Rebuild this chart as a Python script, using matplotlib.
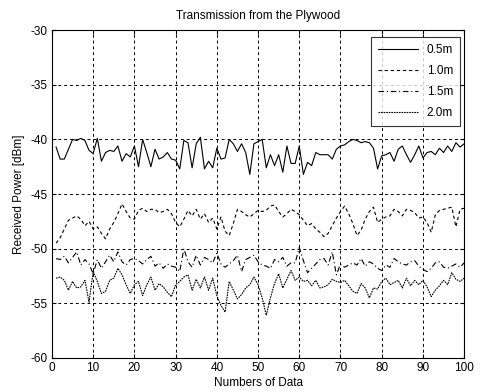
import numpy as np
import matplotlib
matplotlib.use("Agg")
import matplotlib.pyplot as plt

plt.rcParams['font.family'] = ['Liberation Sans', 'DejaVu Sans']
plt.rcParams['axes.unicode_minus'] = False

x = np.arange(1, 101)

s05 = [-40.7, -41.8, -41.8, -40.9, -40.0, -40.1, -39.9, -40.1, -41.0, -41.3,
       -39.9, -42.0, -41.2, -41.0, -41.1, -40.6, -42.0, -41.3, -41.6, -40.6,
       -42.5, -40.0, -41.2, -42.5, -40.9, -41.8, -41.6, -41.2, -41.8, -41.9,
       -42.7, -40.1, -40.3, -42.6, -40.4, -39.8, -42.7, -42.0, -42.6, -40.8,
       -41.8, -41.7, -40.0, -40.4, -41.1, -40.4, -41.2, -43.2, -40.4, -40.2,
       -40.0, -42.6, -41.4, -42.4, -41.4, -43.0, -40.6, -42.2, -42.2, -40.6,
       -43.2, -42.1, -42.4, -41.2, -41.4, -41.4, -41.4, -41.8, -40.9, -40.6,
       -40.5, -40.2, -40.0, -40.1, -40.3, -40.2, -40.3, -40.8, -42.7, -41.5,
       -41.4, -41.2, -42.0, -40.9, -40.6, -41.4, -42.1, -41.4, -40.6, -41.7,
       -41.2, -41.1, -41.4, -40.8, -41.2, -40.6, -41.1, -40.3, -40.7, -40.4]

s10 = [-49.5, -49.0, -48.2, -47.4, -47.2, -47.0, -47.3, -47.9, -47.5, -48.2,
       -48.0, -48.6, -49.1, -48.2, -47.6, -46.8, -45.9, -46.6, -47.2, -47.3,
       -46.5, -46.3, -46.6, -46.4, -46.4, -46.7, -46.6, -46.4, -46.8, -47.6,
       -48.0, -47.3, -46.5, -47.0, -46.4, -47.3, -46.8, -47.6, -47.2, -48.2,
       -47.1, -48.4, -48.8, -47.7, -46.4, -46.6, -46.9, -47.1, -46.8, -46.5,
       -46.6, -46.5, -46.1, -46.0, -46.6, -47.1, -46.8, -46.4, -46.6, -46.9,
       -47.4, -47.9, -47.7, -48.2, -48.5, -48.9, -48.6, -47.9, -47.2, -46.6,
       -46.1, -46.8, -47.7, -48.8, -48.3, -47.3, -46.6, -46.2, -47.6, -47.3,
       -47.1, -47.0, -46.4, -46.6, -47.0, -46.4, -46.5, -46.7, -47.2, -47.1,
       -47.6, -48.5, -46.9, -46.5, -46.4, -46.3, -46.2, -48.0, -46.4, -46.3]

s15 = [-50.9, -51.0, -50.7, -51.3, -50.8, -50.3, -51.5, -51.0, -51.4, -52.3,
       -51.0, -51.8, -51.2, -50.6, -51.2, -50.3, -51.2, -51.5, -51.0, -50.9,
       -51.1, -51.4, -51.0, -50.7, -51.6, -51.3, -51.8, -51.4, -51.6, -51.7,
       -52.1, -50.0, -51.2, -51.7, -50.6, -51.5, -50.8, -51.0, -51.3, -50.4,
       -51.4, -51.7, -51.4, -51.1, -50.6, -52.1, -51.0, -50.8, -50.6, -51.2,
       -51.5, -51.6, -51.8, -51.0, -51.2, -50.8, -51.6, -51.3, -51.3, -49.9,
       -51.1, -52.2, -51.8, -51.4, -51.0, -50.9, -51.5, -50.3, -52.4, -51.4,
       -51.7, -51.5, -51.3, -51.5, -50.9, -51.6, -51.2, -51.4, -51.8, -52.0,
       -51.5, -51.7, -50.9, -51.2, -51.4, -51.5, -51.2, -51.1, -51.6, -51.9,
       -52.1, -51.8, -51.3, -51.2, -51.7, -51.8, -51.6, -51.4, -51.7, -51.3]

s20 = [-52.7, -52.6, -52.9, -53.8, -53.0, -53.6, -53.5, -52.9, -54.9, -52.1,
       -53.0, -54.1, -53.9, -52.9, -52.7, -51.8, -52.4, -53.3, -54.1, -53.3,
       -53.0, -54.3, -53.3, -52.6, -53.8, -53.2, -53.5, -54.0, -54.4, -53.3,
       -53.0, -52.6, -52.4, -53.8, -52.8, -53.6, -52.6, -53.8, -52.7, -54.3,
       -55.2, -55.8, -53.0, -53.8, -54.6, -54.2, -53.6, -53.3, -52.6, -53.3,
       -54.5, -56.1, -54.5, -53.2, -52.3, -53.6, -52.8, -52.0, -52.9, -52.6,
       -53.0, -52.9, -53.4, -52.9, -53.6, -53.5, -53.3, -52.8, -53.0, -53.1,
       -52.9, -53.4, -53.9, -54.1, -53.2, -53.6, -54.5, -53.6, -53.7, -53.0,
       -52.7, -53.3, -53.1, -52.9, -53.6, -52.7, -53.4, -52.9, -53.3, -52.9,
       -53.5, -54.4, -53.8, -53.4, -52.9, -53.3, -52.2, -52.8, -53.0, -52.7]

labels = ['0.5m', '1.0m', '1.5m', '2.0m']
xticks = [0, 10, 20, 30, 40, 50, 60, 70, 80, 90, 100]
yticks = [-60, -55, -50, -45, -40, -35, -30]

fig = plt.figure(figsize=(4.81, 3.92), dpi=100)
ax = fig.add_axes([0.108, 0.087, 0.857, 0.836])

ax.plot(x, s05, color='black', lw=0.8, ls='-', label=labels[0])
ax.plot(x, s10, color='black', lw=0.8, ls=(0, (3, 2.5)), label=labels[1])
ax.plot(x, s15, color='black', lw=0.8, ls=(0, (5, 2.5, 1, 2.5)), label=labels[2])
ax.plot(x, s20, color='black', lw=0.8, ls=(0, (1.5, 0.8)), label=labels[3])

ax.set_xlim(0, 100)
ax.set_ylim(-60, -30)
ax.set_xticks(xticks)
ax.set_yticks(yticks)
ax.grid(True, color='black', ls=(0, (3, 3)), lw=0.7)
ax.tick_params(direction='in', top=True, right=True, labelsize=8.5, length=3, pad=3)
for sp in ax.spines.values():
    sp.set_linewidth(0.8)

ax.set_title('Transmission from the Plywood', fontsize=8.5, pad=8)
ax.set_xlabel('Numbers of Data', fontsize=8.5, labelpad=2)
ax.set_ylabel('Received Power [dBm]', fontsize=8.5, labelpad=4)

leg = ax.legend(loc='upper right', bbox_to_anchor=(0.99, 0.979), borderaxespad=0,
                fontsize=8.5, frameon=True, fancybox=False, handlelength=3.4,
                labelspacing=0.75, borderpad=0.6, handletextpad=0.7)
leg.get_frame().set_edgecolor('black')
leg.get_frame().set_linewidth(0.8)

fig.savefig('out.png', dpi=100)
